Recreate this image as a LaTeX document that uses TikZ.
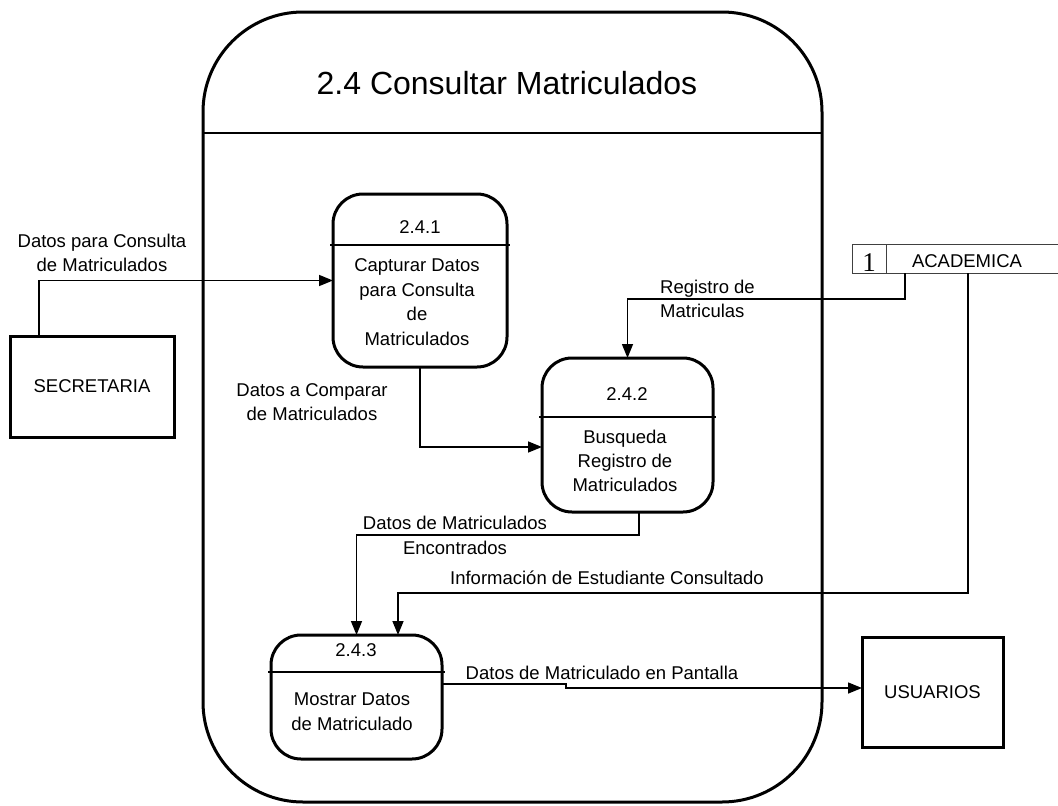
\documentclass[tikz,border=0pt]{standalone}
\usepackage{fontspec}
\setmainfont{Liberation Sans}
\newfontfamily\serifnum{Liberation Serif}
\usetikzlibrary{arrows.meta}
\begin{document}
\begin{tikzpicture}[x=1pt,y=-1pt,
  lbl/.style={font=\fontsize{18.5}{24}\selectfont, align=center, inner sep=0},
  ent/.style={draw, line width=3pt, inner sep=0, outer sep=0, font=\fontsize{18.5}{24}\selectfont},
  proc/.style={draw, line width=3pt, rounded corners=30pt, inner sep=0, outer sep=0},
  flow/.style={line width=1.5pt, -{Triangle[length=14pt,width=11pt]}},
  plain/.style={line width=1.5pt},
  store/.style={line width=1pt, draw=black!75}]
\useasboundingbox (0,0) rectangle (1058,806);

% main process
\node[draw, line width=3pt, rounded corners=100pt, minimum width=619pt, minimum height=790pt, inner sep=0, outer sep=0] (main) at (512.5,407) {};
\draw[plain] (main.west |- 0,133) -- (main.east |- 0,133);
\node[font=\fontsize{32}{38}\selectfont, inner sep=0] (title) at (507,83) {2.4 Consultar Matriculados};

% processes
\node[proc, minimum width=174pt, minimum height=173pt] (p1) at (420,280.5) {};
\draw[plain, shorten <=-3pt, shorten >=-3pt] (p1.west |- 0,245) -- (p1.east |- 0,245);
\node[lbl] (p1n) at (420,227) {2.4.1};
\node[lbl, font=\fontsize{18.5}{24.5}\selectfont] (p1t) at (417,302) {Capturar Datos\\para Consulta\\de\\Matriculados};

\node[proc, minimum width=171pt, minimum height=154pt] (p2) at (627.5,435) {};
\draw[plain, shorten <=-3pt, shorten >=-3pt] (p2.west |- 0,417) -- (p2.east |- 0,417);
\node[lbl] (p2n) at (627,394) {2.4.2};
\node[lbl] (p2t) at (625,461) {Busqueda\\Registro de\\Matriculados};

\node[proc, minimum width=171pt, minimum height=124pt] (p3) at (356.5,697) {};
\draw[plain, shorten <=-3pt, shorten >=-3pt] (p3.west |- 0,672) -- (p3.east |- 0,672);
\node[lbl] (p3n) at (356,650) {2.4.3};
\node[lbl, font=\fontsize{18.5}{25}\selectfont] (p3t) at (352,712) {Mostrar Datos\\de Matriculado};

% external entities
\node[ent, minimum width=164pt, minimum height=101pt] (sec) at (92,386.5) {SECRETARIA};
\node[ent, minimum width=141pt, minimum height=110pt] (usu) at (932.5,692) {USUARIOS};

% data store
\node[inner sep=0, outer sep=0, minimum width=172pt, minimum height=29pt] (acad) at (972,258.5) {};
\draw[store] (acad.north west) -- (acad.north east);
\draw[store] (acad.south west) -- (acad.south east);
\node[draw=black!75, line width=1pt, minimum width=34pt, minimum height=29pt, inner sep=0, outer sep=0] (num1) at (869,258.5) {};
\node[font=\serifnum\fontsize{27}{27}\selectfont, anchor=base, inner sep=0] (num1t) at (869,271.5) {1};
\node[lbl] (acadt) at (967,261) {ACADEMICA};

% flows
\draw[flow] (sec.north -| 39,0) |- (p1.west);
\draw[flow] (p1.south) |- (p2.west |- 0,447);
\draw[flow] (acad.south -| 905,0) -- (905,299) -| (p2.north);
\draw[flow] (p2.south -| 639,0) -- (639,535) -| (p3.north);
\draw[flow] (acad.south -| 968,0) -- (968,593) -| (p3.north -| 398,0);
\draw[flow] (p3.east |- 0,684) -- (566,684) -- (566,688) -- (usu.west |- 0,688);

% flow labels
\node[lbl] (l1) at (102,253) {Datos para Consulta\\de Matriculados};
\node[lbl] (l2) at (312,402) {Datos a Comparar\\de Matriculados};
\node[lbl, anchor=west, align=left] (l3) at (660,299) {Registro de\\Matriculas};
\node[lbl, font=\fontsize{18.5}{25}\selectfont] (l4) at (455,535) {Datos de Matriculados\\Encontrados};
\node[lbl] (l5) at (607,578) {Información de Estudiante Consultado};
\node[lbl] (l6) at (602,673) {Datos de Matriculado en Pantalla};
\end{tikzpicture}
\end{document}
